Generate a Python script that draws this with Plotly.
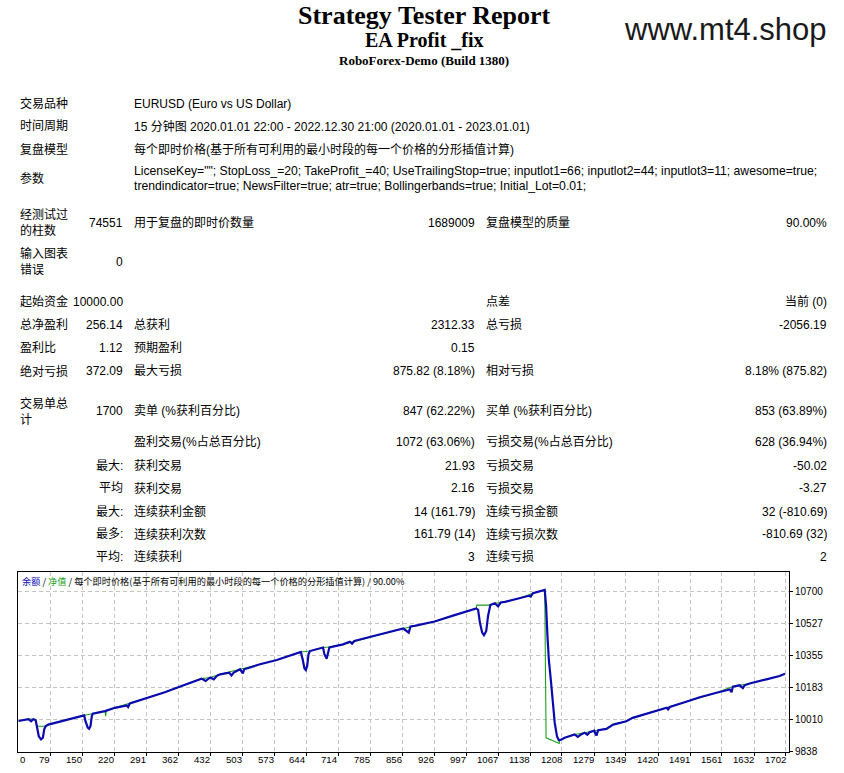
import plotly.graph_objects as go

W, H = 844, 773
SY = 0.9915  # measured vertical squeeze of the photographed page; positions are pre-compensated

# ---------------- chart data (trade number vs account value) ----------------
balance_trade = [9, 31, 37, 42, 47, 50, 54, 59, 63, 66, 69, 75, 112, 149, 154, 157, 162, 165, 168, 171,
                 173, 200, 222, 248, 251, 255, 295, 332, 369, 413, 422, 432, 440, 447, 454, 474, 479, 484,
                 498, 504, 507, 542, 579, 632, 636, 640, 643, 646, 649, 652, 681, 684, 689, 692, 695, 725,
                 740, 745, 750, 799, 858, 870, 874, 883, 927, 971, 1019, 1023, 1027, 1032, 1036, 1041, 1045,
                 1050, 1060, 1067, 1073, 1082, 1119, 1135, 1139, 1144, 1170, 1173, 1176, 1179, 1184, 1188,
                 1192, 1197, 1201, 1207, 1214, 1236, 1243, 1250, 1258, 1264, 1269, 1279, 1284, 1288, 1306,
                 1321, 1350, 1364, 1401, 1439, 1442, 1446, 1475, 1512, 1549, 1578, 1582, 1585, 1600, 1607,
                 1611, 1622, 1659, 1688, 1700]
balance = [10002, 10012, 10001, 10012, 10007, 9974, 9920, 9903, 9912, 9957, 9974, 9983, 10007, 10028,
           10032, 10001, 9966, 9960, 9974, 10028, 10041, 10055, 10073, 10086, 10077, 10097, 10127, 10157,
           10190, 10230, 10217, 10236, 10226, 10245, 10253, 10262, 10247, 10262, 10280, 10258, 10280, 10307,
           10330, 10373, 10334, 10284, 10276, 10298, 10361, 10378, 10397, 10361, 10337, 10361, 10398, 10414,
           10428, 10418, 10432, 10463, 10499, 10477, 10510, 10513, 10537, 10571, 10607, 10600, 10531, 10477,
           10463, 10486, 10567, 10625, 10635, 10618, 10639, 10642, 10666, 10675, 10671, 10689, 10707, 10621,
           10459, 10334, 10208, 10082, 9993, 9920, 9899, 9903, 9912, 9930, 9917, 9930, 9939, 9928, 9942, 9950,
           9924, 9953, 9960, 9983, 10001, 10019, 10046, 10073, 10064, 10078, 10100, 10130, 10154, 10172,
           10157, 10187, 10194, 10179, 10194, 10204, 10226, 10244, 10256]

equity_trade = [9, 31, 42, 47, 50, 69, 75, 112, 149, 153, 172, 200, 201.5, 203, 222, 255, 295, 332, 369,
                413, 432, 454, 498, 542, 579, 632, 652, 681, 695, 725, 799, 858, 883, 927, 971, 1019, 1020,
                1050, 1060, 1073, 1082, 1119, 1144, 1170, 1171, 1172, 1173, 1202, 1203, 1214, 1236, 1258,
                1288, 1306, 1321, 1350, 1364, 1401, 1446, 1475, 1512, 1549, 1585, 1600, 1622, 1659, 1688, 1700]
equity = [10002, 10012, 10012, 10007, 9974, 9974, 9983, 10007, 10028, 10032, 10041, 10055, 10028, 10057,
          10073, 10097, 10127, 10157, 10190, 10230, 10236, 10253, 10280, 10307, 10330, 10373, 10378, 10397,
          10400, 10414, 10463, 10499, 10513, 10537, 10571, 10607, 10625, 10625, 10635, 10639, 10642, 10666,
          10689, 10707, 10307, 10307, 9912, 9881, 9899, 9912, 9930, 9939, 9953, 9960, 9983, 10001, 10019,
          10046, 10078, 10100, 10130, 10154, 10187, 10194, 10204, 10226, 10244, 10256]

x_tick_labels = [0, 79, 150, 220, 291, 362, 432, 503, 573, 644, 714, 785, 856, 926, 997, 1067, 1138,
                 1208, 1279, 1349, 1420, 1491, 1561, 1632, 1702]
y_tick_values = [9838, 10010.4, 10182.8, 10355.2, 10527.6, 10700]
y_tick_labels = ["9838", "10010", "10183", "10355", "10527", "10700"]

# ---------------- report text ----------------
title_text = "Strategy Tester Report"
ea_name = "EA Profit _fix"
server_text = "RoboForex-Demo (Build 1380)"
site_text = "www.mt4.shop"

info_labels = ["交易品种", "时间周期", "复盘模型", "参数"]
info_values = ["EURUSD (Euro vs US Dollar)",
               "15 分钟图 2020.01.01 22:00 - 2022.12.30 21:00 (2020.01.01 - 2023.01.01)",
               "每个即时价格(基于所有可利用的最小时段的每一个价格的分形插值计算)"]
param_lines = ['LicenseKey=""; StopLoss_=20; TakeProfit_=40; UseTrailingStop=true; inputlot1=66; '
               'inputlot2=44; inputlot3=11; awesome=true;',
               'trendindicator=true; NewsFilter=true; atr=true; Bollingerbands=true; Initial_Lot=0.01;']

stat_rows = [
    ("经测试过<br>的柱数", "74551", "用于复盘的即时价数量", "1689009", "复盘模型的质量", "90.00%"),
    ("输入图表<br>错误", "0", "", "", "", ""),
    ("起始资金", "10000.00", "", "", "点差", "当前 (0)"),
    ("总净盈利", "256.14", "总获利", "2312.33", "总亏损", "-2056.19"),
    ("盈利比", "1.12", "预期盈利", "0.15", "", ""),
    ("绝对亏损", "372.09", "最大亏损", "875.82 (8.18%)", "相对亏损", "8.18% (875.82)"),
    ("交易单总<br>计", "1700", "卖单 (%获利百分比)", "847 (62.22%)", "买单 (%获利百分比)", "853 (63.89%)"),
    ("", "", "盈利交易(%占总百分比)", "1072 (63.06%)", "亏损交易(%占总百分比)", "628 (36.94%)"),
    ("", "最大:", "获利交易", "21.93", "亏损交易", "-50.02"),
    ("", "平均", "获利交易", "2.16", "亏损交易", "-3.27"),
    ("", "最大:", "连续获利金额", "14 (161.79)", "连续亏损金额", "32 (-810.69)"),
    ("", "最多:", "连续获利次数", "161.79 (14)", "连续亏损次数", "-810.69 (32)"),
    ("", "平均:", "连续获利", "3", "连续亏损", "2"),
]

# ---------------- layout helpers (window pixel -> paper fraction) ----------------
def px(x):
    return x / W

def py(y):
    return max(0.0, 1 - (y / SY) / H)

TXT = "Liberation Sans, Noto Sans CJK SC, sans-serif"
SERIF = "Liberation Serif, Times New Roman, serif"
BLUE = "#0a0aae"
GREEN = "#1aa01a"

info_rows_y = [103.5, 126, 149.5, 178]
param_lines_y = [171, 185.3]
stat_rows_y = [222.3, 261.3, 301.3, 324.6, 347.3, 370.6, 410.6, 441, 464.6, 487.3, 510.6, 533, 555.6]
col_x = [(18, "left"), (125, "right"), (132, "left"), (477, "right"), (484, "left"), (829, "right")]

plot_left, plot_right, plot_top, plot_bottom = 18.3, 789, 571, 750

fig = go.Figure()
fig.add_trace(go.Scatter(x=equity_trade, y=equity, mode="lines",
                         line=dict(color=GREEN, width=1.1), hoverinfo="skip", showlegend=False))
fig.add_trace(go.Scatter(x=balance_trade, y=balance, mode="lines",
                         line=dict(color=BLUE, width=2.2), hoverinfo="skip", showlegend=False))

ann = []

def add(text, x, y, size=12, xanchor="left", family=TXT, color="#000", bold=False, align="left"):
    if bold:
        text = "<b>" + text + "</b>"
    ann.append(dict(text=text, x=px(x), y=py(y), xref="paper", yref="paper", xanchor=xanchor,
                    yanchor="middle", showarrow=False, align=align,
                    font=dict(family=family, size=size, color=color)))

# header
add(title_text, 424, 15.5, size=26, xanchor="center", family=SERIF, bold=True)
add(ea_name, 424, 40, size=20, xanchor="center", family=SERIF, bold=True)
add(server_text, 424, 60, size=13, xanchor="center", family=SERIF, bold=True)
add(site_text, 725, 29, size=31, xanchor="center", family="Liberation Sans, Arial, sans-serif", color="#1a1a1a")

# info block
for lab, y in zip(info_labels, info_rows_y):
    add(lab, 18, y)
for val, y in zip(info_values, info_rows_y):
    add(val, 132, y)
for line, y in zip(param_lines, param_lines_y):
    add(line, 132, y, size=12.2)

# statistics block
for row, y in zip(stat_rows, stat_rows_y):
    for txt, (cx, anc) in zip(row, col_x):
        if txt:
            add(txt, cx, y, xanchor=anc)

# chart legend line
legend_text = (f'<span style="color:{BLUE}">余额</span> / <span style="color:{GREEN}">净值</span> / '
               '每个即时价格(基于所有可利用的最小时段的每一个价格的分形插值计算) / 90.00%')
add(legend_text, 20, 579.5, size=9.2, family="Noto Sans CJK SC, sans-serif")

# x tick labels (right aligned to their gridline, like the MT4 picture)
for i, lab in enumerate(x_tick_labels):
    if i == 0:
        ann.append(dict(text=str(lab), x=px(plot_left), y=py(757.5), xref="paper", yref="paper",
                        xanchor="left", yanchor="middle", showarrow=False,
                        font=dict(family=TXT, size=9.6, color="#000")))
    else:
        ann.append(dict(text=str(lab), x=lab, y=py(757.5), xref="x", yref="paper", xshift=2,
                        xanchor="right", yanchor="middle", showarrow=False,
                        font=dict(family=TXT, size=9.6, color="#000")))

grid = dict(showgrid=True, gridcolor="#c4c4c4", griddash="4px,3px", gridwidth=1)

fig.update_layout(
    width=W, height=H,
    margin=dict(l=0, r=0, t=0, b=0),
    paper_bgcolor="white", plot_bgcolor="white",
    annotations=ann,
    xaxis=dict(domain=[px(plot_left), px(plot_right)], range=[8.8, 1708.8], tickvals=x_tick_labels,
               showticklabels=False, ticks="outside", ticklen=3, tickcolor="#000",
               showline=True, linecolor="#000", linewidth=1, mirror=True, zeroline=False, **grid),
    yaxis=dict(domain=[py(plot_bottom), py(plot_top)], range=[9838, 10802], side="right",
               tickvals=y_tick_values, ticktext=y_tick_labels, ticks="outside", ticklen=3,
               tickcolor="#000", tickfont=dict(family=TXT, size=10, color="#000"),
               showline=True, linecolor="#000", linewidth=1, mirror=True, zeroline=False, **grid),
)

# remove the browser's default 8px body margin so the figure fills the window exactly
fig.write_html("out.html", config={"displayModeBar": False},
               post_script="document.body.style.margin='0px';document.body.style.overflow='hidden';")
